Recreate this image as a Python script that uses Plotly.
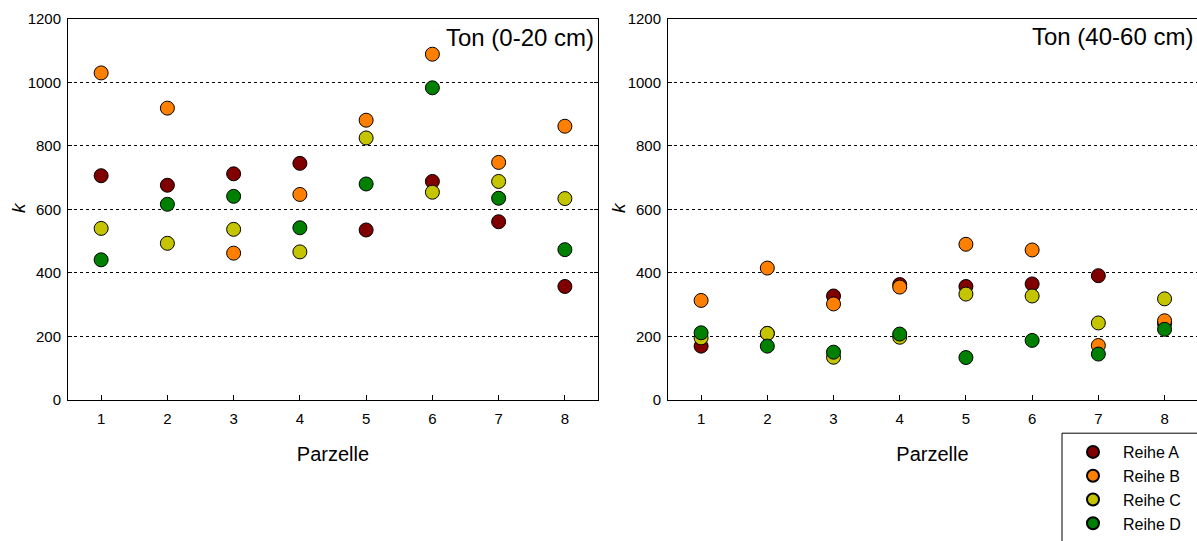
import plotly.graph_objects as go

parzelle = [1, 2, 3, 4, 5, 6, 7, 8]
series_names = ["Reihe A", "Reihe B", "Reihe C", "Reihe D"]
colors = ["#800000", "#FF8000", "#C4C400", "#008000"]

# Ton (0-20 cm)
top_A = [706, 676, 712, 745, 535, 688, 561, 357]
top_B = [1030, 919, 462, 647, 881, 1089, 748, 862]
top_C = [540, 493, 537, 466, 825, 654, 688, 634]
top_D = [441, 616, 641, 542, 680, 983, 635, 473]

# Ton (40-60 cm)
sub_A = [169, 209, 327, 363, 357, 365, 391, 240]
sub_B = [313, 415, 302, 355, 490, 472, 171, 249]
sub_C = [195, 209, 134, 197, 333, 327, 242, 318]
sub_D = [211, 169, 150, 207, 133, 187, 144, 222]

titles = ["Ton (0-20 cm)", "Ton (40-60 cm)"]
y_title = "<i>k</i>"
x_title = "Parzelle"
y_ticks = [0, 200, 400, 600, 800, 1000, 1200]

W, H = 1197, 541
FONT = "Liberation Sans, Arial, sans-serif"

fig = go.Figure()

panels = [(top_A, top_B, top_C, top_D), (sub_A, sub_B, sub_C, sub_D)]
for p, data in enumerate(panels):
    xa = "x" if p == 0 else "x2"
    ya = "y" if p == 0 else "y2"
    for i, vals in enumerate(data):
        fig.add_trace(go.Scatter(
            x=parzelle, y=vals, mode="markers", name=series_names[i],
            xaxis=xa, yaxis=ya, showlegend=(p == 1),
            marker=dict(size=14, color=colors[i], line=dict(color="black", width=1)),
        ))


def px_x(v):
    return v / W


def px_y(v):
    return 1 - v / H


axis_common = dict(
    showline=True, linecolor="black", linewidth=1,
    tickfont=dict(family=FONT, size=15, color="black"),
    zeroline=False, automargin=False,
)

xcommon = dict(tickvals=parzelle, ticks="inside", ticklen=5, tickcolor="black",
               mirror=True, showgrid=False, ticklabelstandoff=5,
               title=dict(text=x_title, font=dict(family=FONT, size=20), standoff=21),
               **axis_common)
ycommon = dict(range=[0, 1200], tickvals=y_ticks, ticks="inside", ticklen=4,
               tickcolor="black", showgrid=True, gridcolor="black", griddash="dot",
               gridwidth=1, ticklabelstandoff=3,
               **axis_common)

fig.update_layout(
    width=W, height=H,
    margin=dict(l=0, r=0, t=0, b=0, pad=0),
    paper_bgcolor="white", plot_bgcolor="white",
    font=dict(family=FONT, color="black"),
    xaxis=dict(domain=[px_x(68), px_x(598)], range=[0.5, 8.5], anchor="y", **xcommon),
    yaxis=dict(domain=[px_y(400.5), px_y(19)], anchor="x", mirror="ticks", **ycommon),
    xaxis2=dict(domain=[px_x(668), 1.0], range=[0.5, 8.49], anchor="y2", **xcommon),
    yaxis2=dict(domain=[px_y(400.5), px_y(19)], anchor="x2", mirror=False, **ycommon),
    legend=dict(x=px_x(1063), y=px_y(436), xanchor="left", yanchor="top",
                bgcolor="rgba(0,0,0,0)", borderwidth=0,
                font=dict(family=FONT, size=16, color="black"),
                itemsizing="constant", itemwidth=50, tracegroupgap=0),
    showlegend=True,
)

# legend frame (extends past the page edge as in the reference)
fig.add_shape(type="rect", xref="paper", yref="paper",
              x0=px_x(1062), x1=px_x(1205), y0=px_y(560), y1=px_y(434),
              line=dict(color="black", width=1), fillcolor="rgba(0,0,0,0)", layer="above")

# y-axis titles
for xpx in (18.5, 618.5):
    fig.add_annotation(text=y_title, xref="paper", yref="paper", x=px_x(xpx), y=px_y(208),
                       xanchor="center", yanchor="middle", showarrow=False, textangle=-90,
                       font=dict(family=FONT, size=19, color="black"))

# panel titles
fig.add_annotation(text=titles[0], xref="paper", yref="paper", x=px_x(596), y=px_y(22),
                   xanchor="right", yanchor="top", showarrow=False,
                   font=dict(family=FONT, size=24, color="black"))
fig.add_annotation(text=titles[1], xref="paper", yref="paper", x=px_x(1195), y=px_y(21),
                   xanchor="right", yanchor="top", showarrow=False,
                   font=dict(family=FONT, size=24, color="black"))

fig.write_html(
    "out.html",
    config={"displayModeBar": False},
    post_script="document.body.style.margin='0';document.body.style.overflow='hidden';",
)
